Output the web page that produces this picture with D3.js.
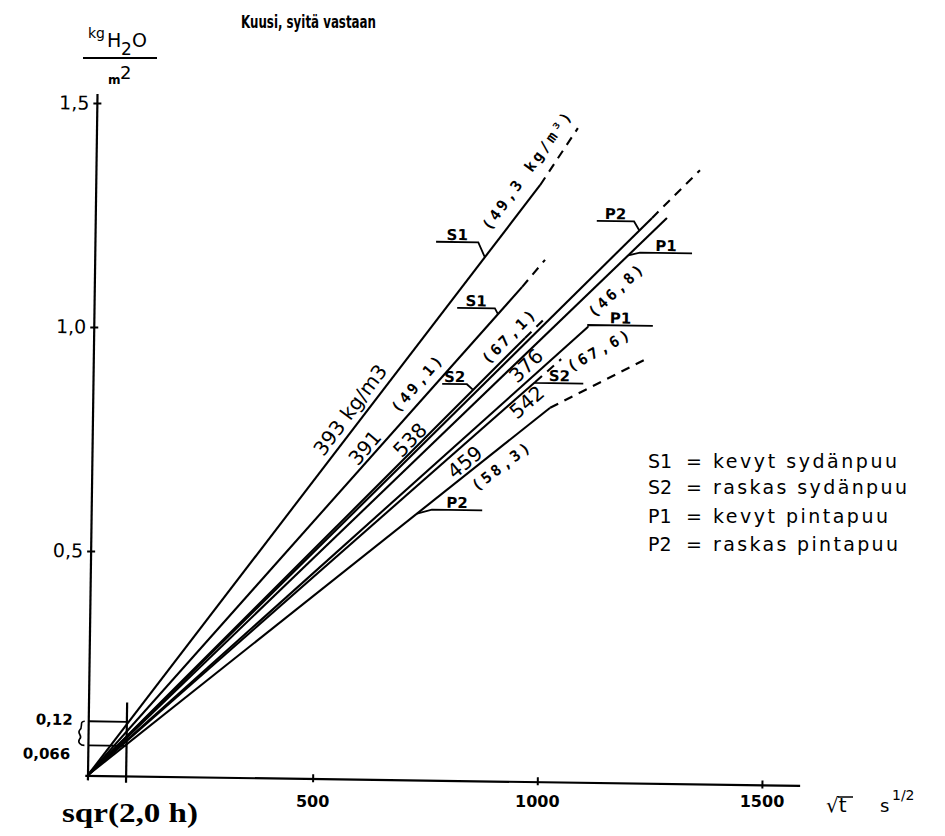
<!DOCTYPE html>
<html><head><meta charset="utf-8">
<script src="https://cdn.jsdelivr.net/npm/d3@7"></script>
<style>body{margin:0;background:#fff;} svg{display:block;}</style>
</head><body>
<svg id="chart" width="945" height="836"></svg>
<script>
// ---------- data ----------
const lineNames = ["S1","S1","S2","P2","P1","P1","S2","P2"];
const solidEndX = [988, 951, 959, 1238, 1271, 1099, 983, 1017];
const solidEndY = [1.331, 1.103, 0.989, 1.261, 1.261, 1.016, 0.891, 0.834];
const dashEndX  = [1070, 1001, 1003, 1343, null, null, 1040, 1233];
const dashEndY  = [1.459, 1.164, 1.034, 1.369, null, null, 0.943, 0.948];

const tagJoinX = [867, 898, 845, 1210, 1186, 1099, 983, 724];
const tagLevel = [1.201, 1.054, 0.884, 1.2525, 1.183, 1.02, 0.889, 0.603];
const tagFromX = [758, 807, 776, 1115, 1212, 1099, 983, 757];
const tagToX   = [852, 891, 831, 1198, 1328, 1243, 1090, 869];
const tagSide  = ["left","left","left","left","right","right","right","right"];

const labelTexts = ["393 kg/m3","(49,3 kg/m³)","391","(49,1)","538","(67,1)","376","(46,8)","(67,6)","542","459","(58,3)"];
const labelX = [572, 960, 606, 722, 706, 925, 962, 1162, 1126, 965, 829, 912];
const labelY = [0.823, 1.364, 0.739, 0.885, 0.758, 0.993, 0.927, 1.099, 0.9645, 0.846, 0.710, 0.7025];
const labelAngle = [-54, -55, -50, -50, -47, -46, -45, -44, -30, -42, -40, -38];

const yTicks = [0.5, 1.0, 1.5];
const yTickLabels = ["0,5", "1,0", "1,5"];
const xTicks = [500, 1000, 1500];
const xTickLabels = ["500", "1000", "1500"];
const boxValues = [0.066, 0.12];
const boxLabels = ["0,066", "0,12"];
const sqrtTwoHours = 84.85;

const legendKeys = ["S1","S2","P1","P2"];
const legendDesc = ["kevyt sydänpuu","raskas sydänpuu","kevyt pintapuu","raskas pintapuu"];
const legendDescWidth = [184, 194, 175, 185];

// ---------- setup ----------
const FONT = "'DejaVu Sans', 'Noto Sans', sans-serif";
const MONO = "'DejaVu Sans Mono', 'Liberation Mono', monospace";
const svg = d3.select("#chart");
const x = d3.scaleLinear().domain([0,1500]).range([88,762]);
const y = d3.scaleLinear().domain([0,1.5]).range([775,103]);
const g = svg.append("g").attr("transform", `rotate(0.8, ${x(0)}, ${y(0)})`);
const line = d3.line().x(d => x(d[0])).y(d => y(d[1]));

// axes lines
g.append("path").attr("d", line([[0,-0.012],[0,1.52]])).attr("stroke","#000").attr("stroke-width",2.2).attr("fill","none");
g.append("path").attr("d", line([[-6,-0.002],[1585,-0.002]])).attr("stroke","#000").attr("stroke-width",2.2).attr("fill","none");

// y ticks
const gy = g.append("g").attr("transform", `translate(${x(0)+4},0)`)
  .call(d3.axisLeft(y).tickValues(yTicks).tickSize(8).tickPadding(4).tickFormat((d,i)=>yTickLabels[i]));
gy.select(".domain").remove();
gy.selectAll(".tick line").attr("stroke","#000").attr("stroke-width",2);
gy.selectAll(".tick text").attr("fill","#000").style("font-family",FONT).style("font-size","19px");

// x ticks
const gx = g.append("g").attr("transform", `translate(0,${y(0)-4})`)
  .call(d3.axisBottom(x).tickValues(xTicks).tickSize(8).tickFormat(""));
gx.select(".domain").remove();
gx.selectAll(".tick line").attr("stroke","#000").attr("stroke-width",2);
svg.selectAll(".xlab").data(xTicks).enter().append("text")
  .attr("x", d => x(d)).attr("y", 807).attr("text-anchor","middle")
  .style("font-family",FONT).style("font-size","16px").style("font-weight","bold")
  .text((d,i)=>xTickLabels[i]);

// small box near origin
g.append("path").attr("d", line([[sqrtTwoHours,-0.016],[sqrtTwoHours,0.163]])).attr("stroke","#000").attr("stroke-width",2.2).attr("fill","none");
boxValues.forEach((v,i) => {
  g.append("path").attr("d", line([[0,v],[sqrtTwoHours,v]])).attr("stroke","#000").attr("stroke-width",1.8).attr("fill","none");
});
g.append("text").attr("x", x(0)-16).attr("y", y(boxValues[1])+4).attr("text-anchor","end")
  .style("font-family",FONT).style("font-size","15px").style("font-weight","bold").text(boxLabels[1]);
g.append("text").attr("x", x(0)-18).attr("y", y(boxValues[0])+14).attr("text-anchor","end")
  .style("font-family",FONT).style("font-size","15px").style("font-weight","bold").text(boxLabels[0]);
// brace
{
  const y1 = y(boxValues[1]), y0 = y(boxValues[0]), bx = x(0) - 8, ym = (y0+y1)/2;
  g.append("path").attr("d", `M${bx+4},${y1} C${bx-2},${y1} ${bx+3},${y1+6} ${bx-1},${ym-3} C${bx-4},${ym} ${bx+3},${ym+3} ${bx-1},${ym+6} C${bx-3},${y0-3} ${bx},${y0} ${bx+4},${y0}`)
   .attr("stroke","#000").attr("stroke-width",1.6).attr("fill","none");
}

// lines
lineNames.forEach((n,i) => {
  g.append("path").attr("d", line([[0,0],[solidEndX[i],solidEndY[i]]]))
    .attr("stroke","#000").attr("stroke-width",2.1).attr("fill","none");
  if (dashEndX[i] != null) {
    g.append("path").attr("d", line([[solidEndX[i],solidEndY[i]],[dashEndX[i],dashEndY[i]]]))
      .attr("stroke","#000").attr("stroke-width",2.1).attr("fill","none").attr("stroke-dasharray","9,7");
  }
});

// tags with leaders
lineNames.forEach((n,i) => {
  const slope = solidEndY[i]/solidEndX[i];
  const jx = Math.min(tagJoinX[i], solidEndX[i]);
  const join = [jx, jx >= solidEndX[i] ? solidEndY[i] : slope*jx];
  const pts = tagSide[i] === "left"
    ? [[tagFromX[i],tagLevel[i]],[tagToX[i],tagLevel[i]],join]
    : [join,[tagFromX[i],tagLevel[i]],[tagToX[i],tagLevel[i]]];
  g.append("path").attr("d", line(pts)).attr("stroke","#000").attr("stroke-width",1.8).attr("fill","none");
  g.append("text").attr("x", x((tagFromX[i]+tagToX[i])/2)).attr("y", y(tagLevel[i]) - 2)
    .attr("text-anchor","middle").style("font-family",FONT).style("font-size","15px").style("font-weight","bold")
    .text(n);
});

// rotated value labels
labelTexts.forEach((t,i) => {
  const mono = t.startsWith("(");
  g.append("text")
    .attr("transform", `translate(${x(labelX[i])},${y(labelY[i])}) rotate(${labelAngle[i]})`)
    .attr("text-anchor","middle").attr("dominant-baseline","central")
    .style("font-family", mono ? MONO : FONT)
    .style("font-size", mono ? "15px" : "20px")
    .style("font-weight", mono ? "bold" : "normal")
    .style("letter-spacing", mono ? "3px" : "0px")
    .text(t);
});

// title
svg.append("text").attr("x",241).attr("y",28).attr("textLength",135).attr("lengthAdjust","spacingAndGlyphs")
  .style("font-family",FONT).style("font-size","17px").style("font-weight","bold").text("Kuusi, syitä vastaan");

// y unit label
svg.append("text").attr("x",88).attr("y",38).style("font-family",FONT).style("font-size","14px").text("kg");
svg.append("text").attr("x",107).attr("y",47).style("font-family",FONT).style("font-size","19px").text("H");
svg.append("text").attr("x",121).attr("y",55).style("font-family",FONT).style("font-size","17px").text("2");
svg.append("text").attr("x",132).attr("y",47).style("font-family",FONT).style("font-size","19px").text("O");
svg.append("line").attr("x1",83).attr("x2",157).attr("y1",58).attr("y2",58).attr("stroke","#000").attr("stroke-width",2);
svg.append("text").attr("x",108).attr("y",84).style("font-family",FONT).style("font-size","12px").style("font-weight","bold").text("m");
svg.append("text").attr("x",120).attr("y",79).style("font-family",FONT).style("font-size","18px").text("2");

// x unit label
svg.append("text").attr("x",826).attr("y",812).style("font-family",FONT).style("font-size","20px").text("√t");
svg.append("line").attr("x1",838).attr("x2",853).attr("y1",797).attr("y2",797).attr("stroke","#000").attr("stroke-width",1.5);
svg.append("text").attr("x",880).attr("y",812).style("font-family",FONT).style("font-size","18px").text("s");
svg.append("text").attr("x",892).attr("y",800).style("font-family",FONT).style("font-size","14px").text("1/2");

// sqr label
svg.append("text").attr("x",62).attr("y",822).attr("textLength",136).attr("lengthAdjust","spacingAndGlyphs")
  .style("font-family","'Liberation Serif', 'DejaVu Serif', serif").style("font-size","28px").style("font-weight","bold")
  .text("sqr(2,0 h)");

// legend
const legRowY = [468, 494, 523, 551];
legendKeys.forEach((k,i) => {
  svg.append("text").attr("x",648).attr("y",legRowY[i]).style("font-family",FONT).style("font-size","19px").text(k);
  svg.append("text").attr("x",686).attr("y",legRowY[i]).style("font-family",FONT).style("font-size","19px").text("=");
  svg.append("text").attr("x",713).attr("y",legRowY[i]).attr("textLength",legendDescWidth[i]).attr("lengthAdjust","spacing")
    .style("font-family",FONT).style("font-size","19px").text(legendDesc[i]);
});
</script>
</body></html>
